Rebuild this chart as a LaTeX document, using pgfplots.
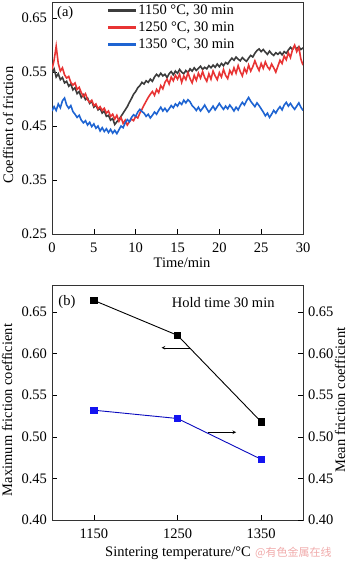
\documentclass[border=0pt]{standalone}
\usepackage{pgfplots}
\pgfplotsset{compat=1.18}
\usepackage{pgfplotstable}
\usepackage{fontspec}
\setmainfont{Liberation Serif}
\newfontfamily\cjk{Noto Sans CJK SC}
\definecolor{cblack}{RGB}{60,60,60}
\definecolor{cred}{RGB}{232,52,52}
\definecolor{cblue}{RGB}{30,100,210}
\definecolor{mblue}{RGB}{20,20,240}
\definecolor{lblue}{RGB}{10,10,190}
\definecolor{wm}{RGB}{240,170,170}

\pgfplotstableread{
t y
0.00 0.548
0.25 0.556
0.50 0.541
0.75 0.547
1.00 0.536
1.25 0.540
1.50 0.530
1.75 0.533
2.00 0.524
2.25 0.528
2.50 0.517
2.75 0.521
3.00 0.510
3.25 0.514
3.50 0.503
3.75 0.508
4.00 0.499
4.25 0.502
4.50 0.492
4.75 0.496
5.00 0.485
5.25 0.489
5.50 0.480
5.75 0.483
6.00 0.474
6.25 0.478
6.50 0.468
6.75 0.470
7.00 0.461
7.25 0.464
7.50 0.453
7.75 0.458
8.00 0.462
8.25 0.468
8.50 0.474
8.75 0.480
9.00 0.486
9.25 0.494
9.50 0.501
9.75 0.509
10.00 0.514
10.25 0.521
10.50 0.525
10.75 0.531
11.00 0.528
11.25 0.534
11.50 0.531
11.75 0.537
12.00 0.533
12.25 0.541
12.50 0.546
12.75 0.542
13.00 0.548
13.25 0.543
13.50 0.546
13.75 0.540
14.00 0.547
14.25 0.551
14.50 0.545
14.75 0.552
15.00 0.548
15.25 0.555
15.50 0.550
15.75 0.547
16.00 0.553
16.25 0.549
16.50 0.556
16.75 0.552
17.00 0.558
17.25 0.553
17.50 0.557
17.75 0.561
18.00 0.555
18.25 0.559
18.50 0.556
18.75 0.562
19.00 0.558
19.25 0.563
19.50 0.559
19.75 0.565
20.00 0.560
20.25 0.566
20.50 0.562
20.75 0.568
21.00 0.565
21.25 0.571
21.50 0.576
21.75 0.572
22.00 0.578
22.25 0.574
22.50 0.571
22.75 0.577
23.00 0.573
23.25 0.570
23.50 0.576
23.75 0.581
24.00 0.578
24.25 0.585
24.50 0.590
24.75 0.593
25.00 0.588
25.25 0.592
25.50 0.587
25.75 0.583
26.00 0.589
26.25 0.584
26.50 0.581
26.75 0.586
27.00 0.583
27.25 0.587
27.50 0.582
27.75 0.588
28.00 0.585
28.25 0.591
28.50 0.596
28.75 0.592
29.00 0.598
29.25 0.593
29.50 0.597
29.75 0.592
30.00 0.595
}\blackdata

\pgfplotstableread{
t y
0.00 0.555
0.25 0.572
0.50 0.598
0.75 0.566
1.00 0.552
1.25 0.558
1.50 0.545
1.75 0.539
2.00 0.542
2.25 0.531
2.50 0.526
2.75 0.530
3.00 0.518
3.25 0.522
3.50 0.512
3.75 0.505
4.00 0.510
4.25 0.499
4.50 0.494
4.75 0.498
5.00 0.488
5.25 0.491
5.50 0.482
5.75 0.486
6.00 0.479
6.25 0.483
6.50 0.474
6.75 0.478
7.00 0.468
7.25 0.472
7.50 0.463
7.75 0.470
8.00 0.459
8.25 0.466
8.50 0.455
8.75 0.461
9.00 0.452
9.25 0.458
9.50 0.463
9.75 0.460
10.00 0.468
10.25 0.465
10.50 0.474
10.75 0.481
11.00 0.489
11.25 0.496
11.50 0.503
11.75 0.509
12.00 0.514
12.25 0.507
12.50 0.518
12.75 0.512
13.00 0.525
13.25 0.519
13.50 0.531
13.75 0.537
14.00 0.528
14.25 0.541
14.50 0.534
14.75 0.544
15.00 0.537
15.25 0.546
15.50 0.531
15.75 0.543
16.00 0.536
16.25 0.549
16.50 0.538
16.75 0.530
17.00 0.544
17.25 0.535
17.50 0.548
17.75 0.539
18.00 0.551
18.25 0.540
18.50 0.533
18.75 0.547
19.00 0.537
19.25 0.552
19.50 0.543
19.75 0.536
20.00 0.549
20.25 0.541
20.50 0.555
20.75 0.544
21.00 0.538
21.25 0.553
21.50 0.546
21.75 0.558
22.00 0.548
22.25 0.562
22.50 0.551
22.75 0.543
23.00 0.557
23.25 0.549
23.50 0.563
23.75 0.552
24.00 0.560
24.25 0.571
24.50 0.561
24.75 0.553
25.00 0.566
25.25 0.557
25.50 0.569
25.75 0.560
26.00 0.555
26.25 0.565
26.50 0.558
26.75 0.550
27.00 0.561
27.25 0.572
27.50 0.566
27.75 0.580
28.00 0.573
28.25 0.586
28.50 0.577
28.75 0.592
29.00 0.600
29.25 0.588
29.50 0.596
29.75 0.574
30.00 0.563
}\reddata

\pgfplotstableread{
t y
0.00 0.478
0.25 0.486
0.50 0.479
0.75 0.491
1.00 0.484
1.25 0.497
1.50 0.502
1.75 0.489
2.00 0.483
2.25 0.488
2.50 0.477
2.75 0.472
3.00 0.466
3.25 0.470
3.50 0.461
3.75 0.456
4.00 0.460
4.25 0.452
4.50 0.457
4.75 0.449
5.00 0.454
5.25 0.446
5.50 0.450
5.75 0.441
6.00 0.447
6.25 0.440
6.50 0.445
6.75 0.438
7.00 0.444
7.25 0.437
7.50 0.442
7.75 0.436
8.00 0.443
8.25 0.450
8.50 0.447
8.75 0.456
9.00 0.462
9.25 0.458
9.50 0.466
9.75 0.471
10.00 0.468
10.25 0.476
10.50 0.481
10.75 0.477
11.00 0.474
11.25 0.468
11.50 0.472
11.75 0.465
12.00 0.470
12.25 0.476
12.50 0.472
12.75 0.479
13.00 0.485
13.25 0.478
13.50 0.483
13.75 0.477
14.00 0.482
14.25 0.488
14.50 0.484
14.75 0.491
15.00 0.487
15.25 0.494
15.50 0.490
15.75 0.498
16.00 0.493
16.25 0.499
16.50 0.495
16.75 0.488
17.00 0.484
17.25 0.479
17.50 0.485
17.75 0.478
18.00 0.483
18.25 0.489
18.50 0.482
18.75 0.476
19.00 0.481
19.25 0.487
19.50 0.480
19.75 0.486
20.00 0.492
20.25 0.486
20.50 0.481
20.75 0.487
21.00 0.482
21.25 0.489
21.50 0.484
21.75 0.478
22.00 0.485
22.25 0.480
22.50 0.488
22.75 0.494
23.00 0.489
23.25 0.497
23.50 0.503
23.75 0.496
24.00 0.491
24.25 0.486
24.50 0.493
24.75 0.488
25.00 0.482
25.25 0.476
25.50 0.469
25.75 0.474
26.00 0.466
26.25 0.472
26.50 0.479
26.75 0.474
27.00 0.481
27.25 0.486
27.50 0.480
27.75 0.489
28.00 0.494
28.25 0.487
28.50 0.492
28.75 0.486
29.00 0.481
29.25 0.487
29.50 0.493
29.75 0.485
30.00 0.479
}\bluedata

\pgfplotstableread{
T maxf
1150 0.664
1250 0.622
1350 0.518
}\maxdata

\pgfplotstableread{
T meanf
1150 0.532
1250 0.522
1350 0.473
}\meandata

\begin{document}
\fontsize{14.5}{16.5}\selectfont
\begin{tikzpicture}
\useasboundingbox (0pt,0pt) rectangle (350pt,561pt);
\pgfplotsset{
  every axis/.append style={
    scale only axis,
    width=251pt,
    /pgf/number format/assume math mode=true,
    /pgf/number format/set thousands separator={},
    tick align=inside,
    major tick length=5pt,
    tick style={black, line width=0.6pt},
    axis line style={line width=0.7pt, black!80},
    ticklabel style={font=\fontsize{14.5}{16.5}\selectfont},
    xticklabel style={yshift=-3.5pt},
    label style={font=\fontsize{14.5}{16.5}\selectfont},
  }
}
% ---------- (a) ----------
\begin{axis}[
  at={(52pt,327pt)}, anchor=south west,
  height=232pt,
  xmin=0, xmax=30, ymin=0.25, ymax=0.68,
  xtick={0,5,...,30},
  ytick={0.25,0.35,0.45,0.55,0.65},
  yticklabel style={/pgf/number format/.cd, fixed, fixed zerofill, precision=2},
  xtick pos=bottom, ytick pos=left,
  legend style={at={(rel axis cs:0.218,0.995)}, anchor=north west, draw=none, fill=none,
    font=\fontsize{14.5}{16.5}\selectfont, row sep=2pt, inner sep=0pt,
    nodes={text height=10.5pt, text depth=3.5pt, inner sep=0.5pt}},
  legend cell align=left,
  legend image code/.code={\draw[#1, line width=3pt] (0pt,0pt) -- (28pt,0pt);},
]
\addplot[cblack, line width=1.6pt] table[x=t,y=y] {\blackdata};
\addlegendentry{1150 °C, 30 min}
\addplot[cred, line width=1.6pt] table[x=t,y=y] {\reddata};
\addlegendentry{1250 °C, 30 min}
\addplot[cblue, line width=1.6pt] table[x=t,y=y] {\bluedata};
\addlegendentry{1350 °C, 30 min}
\node[anchor=north west, inner sep=0pt] at (rel axis cs:0.02,0.98) {(a)};
\end{axis}
% ---------- (b) left ----------
\begin{axis}[
  at={(52pt,41pt)}, anchor=south west,
  height=235pt,
  xmin=1100, xmax=1400, ymin=0.40, ymax=0.6825,
  xtick={1150,1250,1350},
  ytick={0.40,0.45,...,0.65},
  yticklabel style={/pgf/number format/.cd, fixed, fixed zerofill, precision=2},
  xtick pos=bottom, ytick pos=left,
]
\addplot[black, line width=0.9pt, mark=square*, mark size=3.2pt, mark options={fill=black}] table[x=T,y=maxf] {\maxdata};
\draw[-stealth, line width=0.6pt] (axis cs:1265,0.607) -- (axis cs:1231,0.607);
\draw[-stealth, line width=0.6pt] (axis cs:1286,0.5055) -- (axis cs:1320,0.5055);
\node[anchor=north west, inner sep=0pt] at (rel axis cs:0.025,0.955) {(b)};
\node[anchor=west, inner sep=0pt] at (axis cs:1243,0.6615) {Hold time 30 min};
\end{axis}
% ---------- (b) right ----------
\begin{axis}[
  at={(52pt,41pt)}, anchor=south west,
  height=235pt,
  xmin=1100, xmax=1400, ymin=0.40, ymax=0.6825,
  axis x line=none, axis y line*=right,
  ytick={0.40,0.45,...,0.65},
  yticklabel style={/pgf/number format/.cd, fixed, fixed zerofill, precision=2},
]
\addplot[lblue, line width=0.9pt, mark=square*, mark size=3.2pt, mark options={fill=mblue, draw=mblue}] table[x=T,y=meanf] {\meandata};
\end{axis}
% labels
\node[rotate=90] at (8pt,436pt) {Coeffient of friction};
\node at (182pt,298pt) {Time/min};
\node[rotate=90] at (7pt,151pt) {Maximum friction coefficient};
\node[rotate=90] at (340pt,161pt) {Mean friction coefficient};
\node at (178pt,8pt) {Sintering temperature/°C};
\node[anchor=west, text=wm, font=\cjk\fontsize{11}{13}\selectfont, inner sep=0pt] at (255pt,8pt) {@有色金属在线};
\end{tikzpicture}
\end{document}
